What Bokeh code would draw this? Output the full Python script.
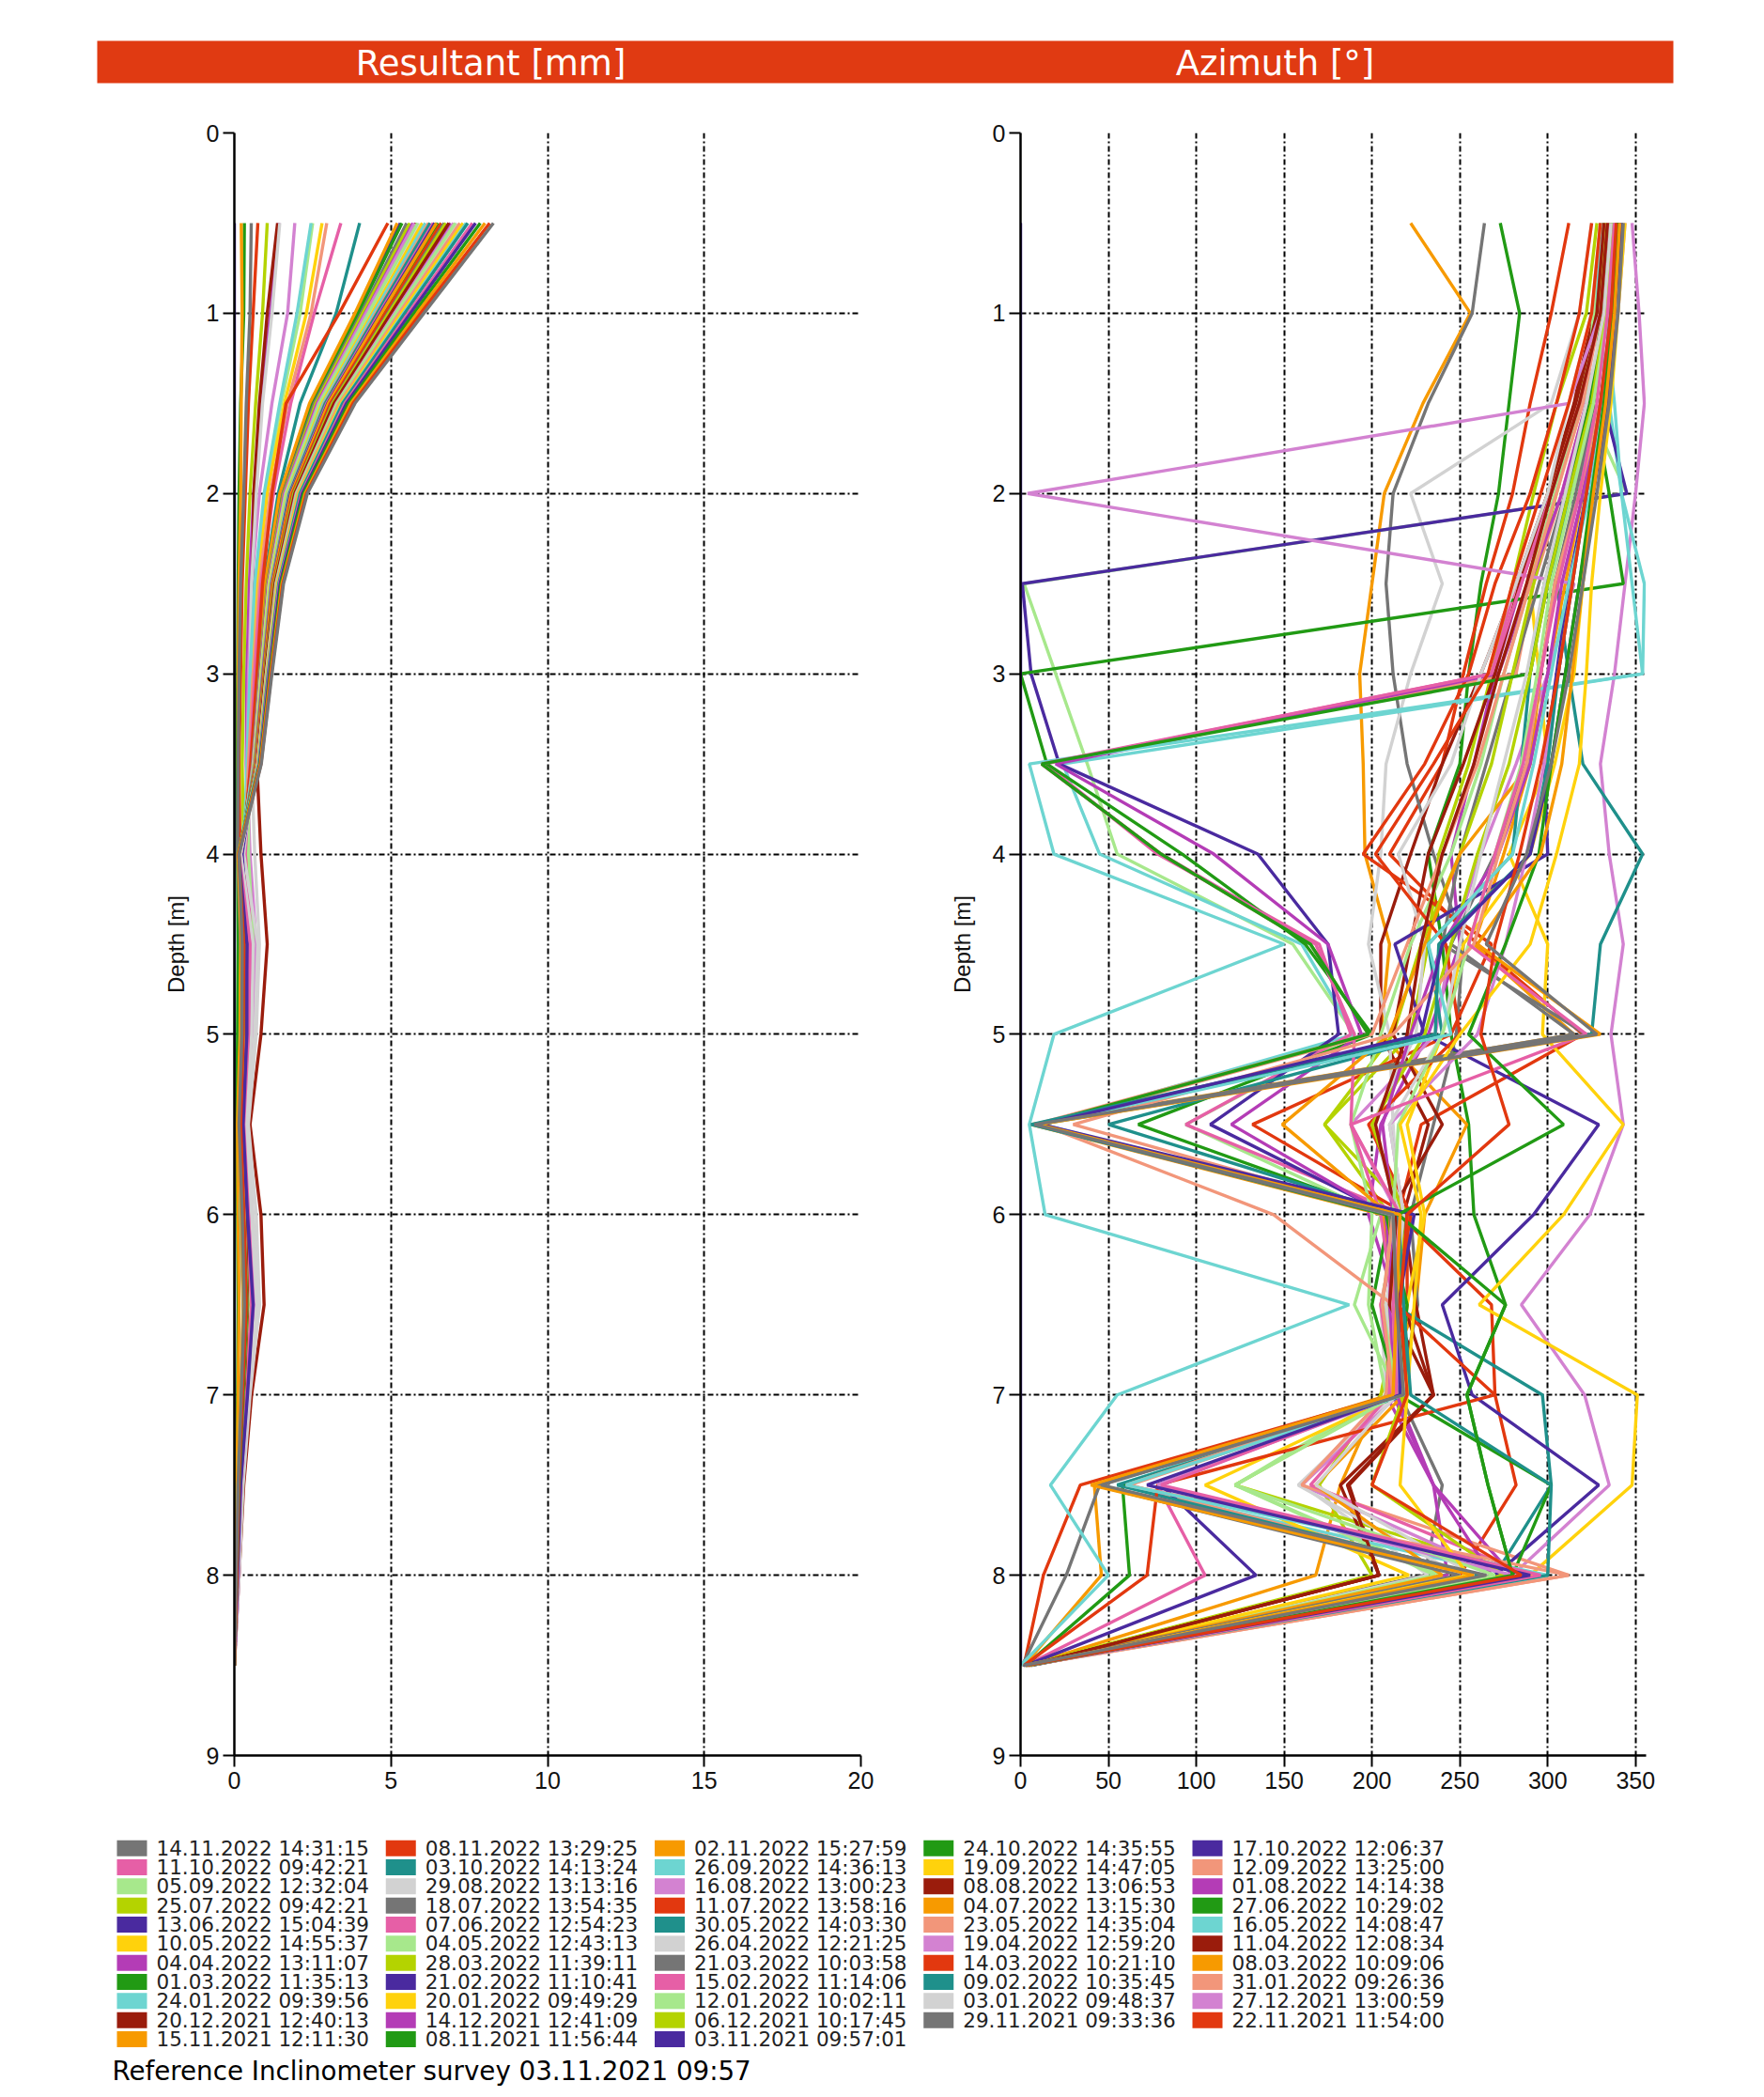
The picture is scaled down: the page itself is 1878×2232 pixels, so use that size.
from bokeh.plotting import figure
from bokeh.models import Range1d, FixedTicker
from bokeh.layouts import column, row
from bokeh.embed import file_html
from bokeh.resources import INLINE
from bokeh.core.properties import value

# ---------------- data ----------------
DEPTHS = [0.5, 1.0, 1.5, 2.0, 2.5, 3.0, 3.5, 4.0, 4.5, 5.0, 5.5, 6.0, 6.5, 7.0, 7.5, 8.0, 8.5]

SURVEYS = [
    "03.11.2021 09:57:01", "08.11.2021 11:56:44", "15.11.2021 12:11:30", "22.11.2021 11:54:00",
    "29.11.2021 09:33:36", "06.12.2021 10:17:45", "14.12.2021 12:41:09", "20.12.2021 12:40:13",
    "27.12.2021 13:00:59", "03.01.2022 09:48:37", "12.01.2022 10:02:11", "20.01.2022 09:49:29",
    "24.01.2022 09:39:56", "31.01.2022 09:26:36", "09.02.2022 10:35:45", "15.02.2022 11:14:06",
    "21.02.2022 11:10:41", "01.03.2022 11:35:13", "08.03.2022 10:09:06", "14.03.2022 10:21:10",
    "21.03.2022 10:03:58", "28.03.2022 11:39:11", "04.04.2022 13:11:07", "11.04.2022 12:08:34",
    "19.04.2022 12:59:20", "26.04.2022 12:21:25", "04.05.2022 12:43:13", "10.05.2022 14:55:37",
    "16.05.2022 14:08:47", "23.05.2022 14:35:04", "30.05.2022 14:03:30", "07.06.2022 12:54:23",
    "13.06.2022 15:04:39", "27.06.2022 10:29:02", "04.07.2022 13:15:30", "11.07.2022 13:58:16",
    "18.07.2022 13:54:35", "25.07.2022 09:42:21", "01.08.2022 14:14:38", "08.08.2022 13:06:53",
    "16.08.2022 13:00:23", "29.08.2022 13:13:16", "05.09.2022 12:32:04", "12.09.2022 13:25:00",
    "19.09.2022 14:47:05", "26.09.2022 14:36:13", "03.10.2022 14:13:24", "11.10.2022 09:42:21",
    "17.10.2022 12:06:37", "24.10.2022 14:35:55", "02.11.2022 15:27:59", "08.11.2022 13:29:25",
    "14.11.2022 14:31:15",
]

# Resultant [mm] per survey (values at DEPTHS)
r20211103 = [0, 0, 0, 0, 0, 0, 0, 0, 0, 0, 0, 0, 0, 0, 0, 0, 0]
r20211108 = [0.32, 0.30, 0.20, 0.15, 0.12, 0.10, 0.08, 0.10, 0.12, 0.10, 0.08, 0.10, 0.12, 0.10, 0.06, 0.04, 0]
r20211115 = [0.22, 0.25, 0.22, 0.20, 0.15, 0.12, 0.12, 0.15, 0.20, 0.18, 0.10, 0.12, 0.15, 0.12, 0.08, 0.05, 0]
r20211122 = [0.75, 0.60, 0.45, 0.35, 0.25, 0.20, 0.15, 0.18, 0.30, 0.35, 0.20, 0.25, 0.30, 0.25, 0.15, 0.10, 0]
r20211129 = [0.54, 0.50, 0.38, 0.30, 0.20, 0.15, 0.12, 0.10, 0.20, 0.25, 0.15, 0.20, 0.28, 0.22, 0.12, 0.08, 0]
r20211206 = [1.05, 0.90, 0.68, 0.50, 0.38, 0.30, 0.25, 0.30, 0.45, 0.40, 0.25, 0.35, 0.42, 0.30, 0.18, 0.10, 0]
r20211214 = [1.42, 1.15, 0.85, 0.62, 0.48, 0.40, 0.38, 0.45, 0.60, 0.55, 0.35, 0.50, 0.60, 0.40, 0.22, 0.12, 0]
r20211220 = [1.38, 1.05, 0.80, 0.62, 0.58, 0.60, 0.72, 0.85, 1.05, 0.85, 0.50, 0.85, 0.95, 0.55, 0.30, 0.15, 0]
r20211227 = [1.93, 1.70, 1.20, 0.80, 0.55, 0.45, 0.40, 0.50, 0.70, 0.60, 0.40, 0.55, 0.70, 0.45, 0.25, 0.15, 0]
r20220103 = [1.45, 1.20, 0.90, 0.70, 0.55, 0.50, 0.55, 0.65, 0.80, 0.70, 0.45, 0.70, 0.80, 0.50, 0.28, 0.15, 0]
r20220112 = [2.50, 2.10, 1.50, 1.00, 0.70, 0.55, 0.45, 0.45, 0.60, 0.50, 0.30, 0.45, 0.55, 0.40, 0.25, 0.12, 0]
r20220120 = [2.80, 2.30, 1.60, 1.05, 0.72, 0.55, 0.42, 0.35, 0.50, 0.45, 0.30, 0.40, 0.50, 0.35, 0.20, 0.10, 0]
r20220124 = [2.45, 2.00, 1.45, 0.95, 0.65, 0.50, 0.40, 0.30, 0.45, 0.40, 0.25, 0.35, 0.45, 0.30, 0.18, 0.10, 0]
r20220131 = [2.95, 2.45, 1.70, 1.15, 0.80, 0.60, 0.45, 0.32, 0.50, 0.45, 0.30, 0.42, 0.55, 0.38, 0.22, 0.12, 0]
r20220209 = [4.00, 3.25, 2.10, 1.40, 0.95, 0.72, 0.52, 0.30, 0.45, 0.40, 0.28, 0.40, 0.50, 0.35, 0.20, 0.10, 0]
r20220215 = [3.40, 2.55, 1.80, 1.25, 0.85, 0.65, 0.50, 0.35, 0.55, 0.50, 0.32, 0.45, 0.60, 0.40, 0.22, 0.12, 0]
r20220221 = [5.30, 3.90, 2.45, 1.50, 1.00, 0.78, 0.55, 0.25, 0.45, 0.45, 0.30, 0.42, 0.62, 0.42, 0.22, 0.12, 0]
r20220301 = [5.35, 3.95, 2.50, 1.55, 1.02, 0.80, 0.56, 0.22, 0.40, 0.40, 0.28, 0.38, 0.50, 0.35, 0.20, 0.10, 0]
r20220308 = [5.20, 3.85, 2.40, 1.45, 0.98, 0.76, 0.55, 0.25, 0.38, 0.35, 0.25, 0.35, 0.45, 0.30, 0.18, 0.10, 0]
r20220314 = [4.90, 3.35, 1.65, 1.20, 0.90, 0.72, 0.52, 0.28, 0.42, 0.38, 0.26, 0.36, 0.45, 0.32, 0.18, 0.10, 0]
r20220321 = [5.50, 4.05, 2.55, 1.55, 1.05, 0.80, 0.58, 0.25, 0.40, 0.35, 0.25, 0.38, 0.48, 0.32, 0.20, 0.10, 0]
r20220328 = [5.60, 4.10, 2.60, 1.58, 1.06, 0.82, 0.60, 0.22, 0.38, 0.36, 0.24, 0.36, 0.46, 0.30, 0.18, 0.10, 0]
r20220404 = [5.70, 4.18, 2.65, 1.60, 1.08, 0.83, 0.60, 0.20, 0.40, 0.38, 0.26, 0.40, 0.55, 0.38, 0.20, 0.10, 0]
r20220411 = [5.80, 4.25, 2.70, 1.63, 1.10, 0.84, 0.62, 0.25, 0.45, 0.42, 0.28, 0.42, 0.50, 0.35, 0.20, 0.10, 0]
r20220419 = [5.75, 4.20, 2.68, 1.62, 1.10, 0.84, 0.60, 0.22, 0.55, 0.50, 0.30, 0.45, 0.60, 0.40, 0.22, 0.12, 0]
r20220426 = [5.90, 4.32, 2.75, 1.66, 1.12, 0.86, 0.62, 0.30, 0.75, 0.65, 0.40, 0.60, 0.80, 0.45, 0.25, 0.12, 0]
r20220504 = [5.85, 4.28, 2.72, 1.65, 1.11, 0.85, 0.62, 0.20, 0.40, 0.38, 0.25, 0.38, 0.48, 0.32, 0.18, 0.10, 0]
r20220510 = [6.00, 4.40, 2.80, 1.70, 1.14, 0.88, 0.63, 0.18, 0.35, 0.32, 0.22, 0.32, 0.40, 0.28, 0.16, 0.08, 0]
r20220516 = [6.10, 4.45, 2.84, 1.72, 1.16, 0.89, 0.64, 0.15, 0.30, 0.20, 0.15, 0.20, 0.30, 0.20, 0.12, 0.06, 0]
r20220523 = [6.20, 4.52, 2.88, 1.75, 1.18, 0.90, 0.65, 0.20, 0.35, 0.30, 0.20, 0.35, 0.42, 0.30, 0.16, 0.08, 0]
r20220530 = [6.25, 4.56, 2.90, 1.76, 1.19, 0.91, 0.66, 0.18, 0.34, 0.30, 0.20, 0.32, 0.40, 0.28, 0.16, 0.08, 0]
r20220607 = [6.35, 4.63, 2.95, 1.79, 1.20, 0.92, 0.67, 0.20, 0.45, 0.42, 0.28, 0.42, 0.55, 0.36, 0.18, 0.10, 0]
r20220613 = [6.40, 4.67, 2.98, 1.80, 1.21, 0.93, 0.68, 0.25, 0.45, 0.45, 0.30, 0.45, 0.62, 0.42, 0.20, 0.10, 0]
r20220627 = [6.50, 4.74, 3.02, 1.83, 1.23, 0.95, 0.69, 0.18, 0.32, 0.28, 0.18, 0.30, 0.38, 0.26, 0.15, 0.08, 0]
r20220704 = [6.45, 4.70, 3.00, 1.82, 1.22, 0.94, 0.68, 0.20, 0.35, 0.30, 0.20, 0.32, 0.40, 0.28, 0.16, 0.08, 0]
r20220711 = [6.60, 4.82, 3.07, 1.86, 1.25, 0.96, 0.70, 0.16, 0.30, 0.28, 0.18, 0.30, 0.36, 0.25, 0.14, 0.08, 0]
r20220718 = [6.70, 4.90, 3.12, 1.89, 1.27, 0.97, 0.71, 0.15, 0.30, 0.26, 0.18, 0.28, 0.35, 0.24, 0.14, 0.07, 0]
r20220725 = [6.75, 4.93, 3.14, 1.90, 1.28, 0.98, 0.72, 0.18, 0.35, 0.30, 0.20, 0.33, 0.42, 0.30, 0.16, 0.08, 0]
r20220801 = [6.90, 5.04, 3.21, 1.95, 1.31, 1.00, 0.73, 0.20, 0.55, 0.50, 0.32, 0.50, 0.65, 0.42, 0.22, 0.10, 0]
r20220808 = [6.85, 5.00, 3.18, 1.93, 1.30, 0.99, 0.73, 0.18, 0.35, 0.32, 0.22, 0.35, 0.42, 0.30, 0.16, 0.08, 0]
r20220816 = [7.00, 5.11, 3.26, 1.97, 1.33, 1.02, 0.74, 0.20, 0.55, 0.52, 0.32, 0.50, 0.68, 0.45, 0.22, 0.10, 0]
r20220829 = [7.10, 5.18, 3.30, 2.00, 1.35, 1.03, 0.75, 0.20, 0.60, 0.55, 0.35, 0.55, 0.72, 0.45, 0.22, 0.10, 0]
r20220905 = [7.05, 5.15, 3.28, 1.99, 1.34, 1.02, 0.75, 0.16, 0.30, 0.28, 0.18, 0.30, 0.40, 0.28, 0.15, 0.08, 0]
r20220912 = [7.20, 5.26, 3.35, 2.03, 1.37, 1.04, 0.76, 0.15, 0.32, 0.30, 0.20, 0.32, 0.40, 0.28, 0.15, 0.08, 0]
r20220919 = [7.30, 5.33, 3.40, 2.06, 1.39, 1.06, 0.77, 0.14, 0.28, 0.25, 0.16, 0.28, 0.36, 0.25, 0.14, 0.07, 0]
r20220926 = [7.40, 5.40, 3.44, 2.09, 1.41, 1.07, 0.78, 0.12, 0.25, 0.22, 0.15, 0.25, 0.32, 0.22, 0.13, 0.07, 0]
r20221003 = [7.45, 5.44, 3.46, 2.10, 1.42, 1.08, 0.79, 0.12, 0.26, 0.24, 0.16, 0.26, 0.34, 0.24, 0.13, 0.07, 0]
r20221011 = [7.60, 5.55, 3.53, 2.14, 1.44, 1.10, 0.80, 0.15, 0.50, 0.45, 0.30, 0.45, 0.60, 0.40, 0.20, 0.10, 0]
r20221017 = [7.70, 5.62, 3.58, 2.17, 1.46, 1.12, 0.81, 0.14, 0.40, 0.40, 0.28, 0.42, 0.60, 0.42, 0.20, 0.10, 0]
r20221024 = [7.85, 5.73, 3.65, 2.21, 1.49, 1.14, 0.82, 0.12, 0.30, 0.28, 0.18, 0.30, 0.40, 0.28, 0.15, 0.08, 0]
r20221102 = [8.00, 5.84, 3.72, 2.26, 1.52, 1.16, 0.83, 0.12, 0.22, 0.20, 0.12, 0.22, 0.30, 0.20, 0.12, 0.06, 0]
r20221108 = [8.15, 5.95, 3.79, 2.30, 1.55, 1.18, 0.85, 0.14, 0.30, 0.28, 0.20, 0.30, 0.38, 0.26, 0.14, 0.08, 0]
r20221114 = [8.27, 6.05, 3.85, 2.33, 1.57, 1.20, 0.86, 0.15, 0.25, 0.24, 0.15, 0.25, 0.32, 0.22, 0.12, 0.06, 0]

# Azimuth [deg] per survey (values at DEPTHS)
a20211103 = [0, 0, 0, 0, 0, 0, 0, 0, 0, 0, 0, 0, 0, 0, 0, 0, 0]
a20211108 = [273, 284, 278, 272, 262, 255, 250, 232, 240, 245, 255, 258, 276, 254, 266, 280, 6]
a20211115 = [222, 256, 229, 207, 200, 193, 195, 196, 210, 205, 254, 230, 225, 205, 182, 168, 4]
a20211122 = [312, 302, 290, 280, 265, 252, 240, 210, 260, 320, 228, 215, 268, 270, 282, 250, 2]
a20211129 = [264, 257, 232, 212, 208, 212, 220, 235, 252, 248, 235, 222, 226, 216, 240, 230, 1]
a20211206 = [328, 322, 305, 292, 280, 268, 255, 238, 232, 222, 173, 210, 215, 205, 170, 200, 3]
a20211214 = [340, 336, 320, 302, 285, 270, 258, 245, 250, 232, 205, 198, 214, 212, 235, 243, 4]
a20211220 = [330, 326, 315, 300, 282, 262, 240, 222, 205, 205, 232, 218, 225, 235, 187, 204, 5]
a20211227 = [348, 352, 355, 350, 344, 338, 330, 335, 343, 336, 343, 324, 285, 321, 335, 280, 6]
a20220103 = [325, 318, 302, 222, 240, 222, 208, 205, 198, 210, 212, 215, 205, 208, 160, 232, 4]
a20220112 = [330, 326, 322, 345, 2, 20, 38, 55, 155, 190, 94, 205, 190, 215, 122, 240, 3]
a20220120 = [335, 330, 318, 300, 290, 295, 300, 278, 300, 297, 343, 309, 261, 351, 348, 290, 5]
a20220124 = [330, 328, 335, 342, 355, 354, 24, 45, 160, 190, 12, 215, 210, 212, 55, 280, 2]
a20220131 = [338, 334, 322, 308, 292, 282, 12, 80, 165, 198, 8, 215, 205, 215, 62, 260, 3]
a20220209 = [335, 332, 326, 318, 305, 312, 320, 354, 330, 325, 10, 220, 212, 297, 302, 270, 4]
a20220215 = [336, 330, 318, 302, 282, 268, 14, 78, 170, 188, 94, 218, 205, 212, 78, 105, 3]
a20220221 = [338, 336, 332, 345, 1, 6, 22, 135, 175, 181, 108, 210, 212, 210, 80, 134, 3]
a20220301 = [332, 330, 326, 335, 343, 0, 15, 92, 162, 200, 67, 210, 200, 215, 58, 62, 3]
a20220308 = [340, 338, 330, 320, 310, 300, 290, 275, 258, 315, 6, 206, 215, 210, 42, 46, 2]
a20220314 = [325, 318, 305, 290, 270, 255, 230, 195, 268, 245, 132, 220, 220, 212, 34, 13, 2]
a20220321 = [335, 332, 324, 310, 295, 280, 265, 250, 240, 322, 7, 208, 212, 218, 45, 26, 1]
a20220328 = [333, 328, 318, 305, 292, 280, 268, 250, 228, 212, 173, 222, 208, 212, 122, 290, 3]
a20220404 = [338, 334, 322, 308, 290, 272, 20, 110, 175, 194, 120, 208, 212, 208, 235, 280, 4]
a20220411 = [332, 328, 316, 300, 284, 270, 252, 232, 222, 212, 240, 210, 218, 235, 182, 204, 5]
a20220419 = [336, 330, 312, 4, 315, 300, 282, 262, 245, 236, 188, 215, 212, 215, 160, 275, 4]
a20220426 = [330, 325, 312, 300, 282, 262, 245, 215, 230, 225, 200, 216, 208, 212, 158, 250, 4]
a20220504 = [335, 330, 318, 304, 290, 275, 262, 245, 222, 205, 188, 200, 198, 208, 122, 236, 3]
a20220510 = [342, 338, 332, 325, 320, 315, 304, 290, 252, 240, 220, 230, 220, 215, 105, 221, 4]
a20220516 = [336, 333, 338, 342, 348, 354, 5, 19, 150, 19, 5, 14, 187, 55, 17, 50, 0]
a20220523 = [334, 330, 320, 305, 290, 275, 260, 240, 220, 200, 12, 144, 212, 208, 160, 312, 4]
a20220530 = [338, 334, 326, 314, 300, 290, 285, 280, 232, 240, 50, 215, 218, 220, 55, 262, 3]
a20220607 = [335, 330, 318, 302, 285, 268, 12, 80, 168, 190, 188, 205, 212, 210, 165, 290, 4]
a20220613 = [340, 337, 330, 322, 312, 305, 298, 300, 213, 230, 329, 292, 240, 257, 329, 270, 6]
a20220627 = [336, 332, 324, 312, 298, 290, 12, 80, 165, 198, 10, 208, 220, 215, 302, 280, 5]
a20220704 = [342, 338, 330, 318, 305, 296, 290, 250, 230, 210, 149, 210, 212, 218, 168, 240, 3]
a20220711 = [330, 325, 312, 296, 280, 266, 235, 202, 242, 250, 198, 222, 214, 270, 78, 72, 2]
a20220718 = [338, 334, 326, 316, 304, 296, 288, 270, 245, 315, 8, 210, 216, 212, 42, 250, 2]
a20220725 = [336, 333, 325, 312, 300, 290, 278, 260, 245, 230, 200, 218, 214, 218, 200, 275, 3]
a20220801 = [340, 337, 330, 320, 308, 300, 290, 272, 240, 222, 206, 212, 210, 214, 235, 268, 4]
a20220808 = [334, 330, 318, 302, 288, 272, 258, 240, 228, 220, 202, 214, 210, 235, 186, 204, 5]
a20220816 = [344, 340, 332, 322, 314, 306, 298, 288, 276, 260, 210, 218, 212, 216, 78, 280, 4]
a20220829 = [336, 332, 322, 310, 298, 288, 275, 262, 250, 240, 210, 218, 212, 214, 168, 258, 4]
a20220905 = [338, 334, 326, 314, 302, 294, 285, 270, 255, 240, 215, 212, 206, 214, 122, 270, 3]
a20220912 = [342, 338, 330, 318, 304, 296, 288, 272, 258, 212, 30, 212, 206, 212, 60, 312, 4]
a20220919 = [344, 340, 336, 330, 325, 322, 318, 305, 290, 250, 216, 228, 224, 220, 216, 255, 5]
a20220926 = [342, 338, 332, 324, 312, 302, 292, 280, 232, 245, 12, 212, 214, 218, 60, 300, 3]
a20221003 = [340, 336, 330, 322, 314, 306, 300, 290, 238, 236, 6, 215, 218, 222, 302, 300, 3]
a20221011 = [338, 334, 328, 318, 306, 296, 286, 270, 255, 322, 188, 216, 212, 214, 80, 296, 4]
a20221017 = [342, 338, 334, 326, 318, 310, 302, 290, 240, 228, 12, 224, 215, 216, 72, 290, 2]
a20221024 = [340, 337, 332, 325, 318, 310, 302, 295, 276, 255, 309, 215, 276, 254, 266, 280, 4]
a20221102 = [341, 338, 333, 326, 320, 314, 308, 296, 260, 330, 10, 216, 214, 212, 40, 258, 3]
a20221108 = [339, 336, 330, 322, 314, 306, 296, 284, 270, 262, 278, 220, 216, 220, 200, 285, 3]
a20221114 = [343, 340, 335, 328, 320, 312, 302, 288, 265, 328, 8, 212, 214, 218, 46, 265, 2]

RESULTANT = [
    r20211103, r20211108, r20211115, r20211122, r20211129, r20211206, r20211214, r20211220,
    r20211227, r20220103, r20220112, r20220120, r20220124, r20220131, r20220209, r20220215,
    r20220221, r20220301, r20220308, r20220314, r20220321, r20220328, r20220404, r20220411,
    r20220419, r20220426, r20220504, r20220510, r20220516, r20220523, r20220530, r20220607,
    r20220613, r20220627, r20220704, r20220711, r20220718, r20220725, r20220801, r20220808,
    r20220816, r20220829, r20220905, r20220912, r20220919, r20220926, r20221003, r20221011,
    r20221017, r20221024, r20221102, r20221108, r20221114,
]
AZIMUTH = [
    a20211103, a20211108, a20211115, a20211122, a20211129, a20211206, a20211214, a20211220,
    a20211227, a20220103, a20220112, a20220120, a20220124, a20220131, a20220209, a20220215,
    a20220221, a20220301, a20220308, a20220314, a20220321, a20220328, a20220404, a20220411,
    a20220419, a20220426, a20220504, a20220510, a20220516, a20220523, a20220530, a20220607,
    a20220613, a20220627, a20220704, a20220711, a20220718, a20220725, a20220801, a20220808,
    a20220816, a20220829, a20220905, a20220912, a20220919, a20220926, a20221003, a20221011,
    a20221017, a20221024, a20221102, a20221108, a20221114,
]

RES_TICKS = [0, 5, 10, 15, 20]
AZI_TICKS = [0, 50, 100, 150, 200, 250, 300, 350]
DEPTH_TICKS = [0, 1, 2, 3, 4, 5, 6, 7, 8, 9]
FOOTNOTE = "Reference Inclinometer survey 03.11.2021 09:57"

# ---------------- styles ----------------
GRAY, RED, ORANGE, GREEN, PURPLE = "#757575", "#e2380f", "#f79a00", "#219a14", "#4a2a9f"
PINK, TEAL, CYAN, YELLOW, SALMON = "#e65fa6", "#1f908b", "#6dd5d1", "#ffd20c", "#f2967a"
LGREEN, LGRAY, ORCHID, DRED, MAGENTA, YGREEN = "#a7e88c", "#d2d2d2", "#d382d1", "#9a1c0c", "#b43cb6", "#b4d300"

COLORS = [
    PURPLE, GREEN, ORANGE, RED, GRAY, YGREEN, MAGENTA, DRED, ORCHID, LGRAY, LGREEN, YELLOW,
    CYAN, SALMON, TEAL, PINK, PURPLE, GREEN, ORANGE, RED, GRAY, YGREEN, MAGENTA, DRED,
    ORCHID, LGRAY, LGREEN, YELLOW, CYAN, SALMON, TEAL, PINK, PURPLE, GREEN, ORANGE, RED,
    GRAY, YGREEN, MAGENTA, DRED, ORCHID, LGRAY, LGREEN, SALMON, YELLOW, CYAN, TEAL, PINK,
    PURPLE, GREEN, ORANGE, RED, GRAY,
]

HEADER_RED = "#e03a12"
TICK_FONT = "Liberation Sans"
TEXT_FONT = "DejaVu Sans"


def decor_fig(w, h, x0, y0):
    f = figure(width=w, height=h, x_range=Range1d(x0, x0 + w), y_range=Range1d(y0 + h, y0),
               toolbar_location=None, output_backend="svg", min_border=0,
               x_axis_location=None, y_axis_location=None)
    f.grid.visible = False
    f.outline_line_color = None
    f.background_fill_color = "white"
    f.border_fill_color = "white"
    return f


def data_fig(xmax, xticks, bl, br, fw):
    f = figure(frame_width=fw, frame_height=1727,
               min_border_left=bl, min_border_right=br, min_border_top=21, min_border_bottom=62,
               x_range=Range1d(0, xmax), y_range=Range1d(9, 0),
               toolbar_location=None, output_backend="svg")
    f.outline_line_color = None
    f.xaxis.ticker = FixedTicker(ticks=xticks)
    f.yaxis.ticker = FixedTicker(ticks=DEPTH_TICKS)
    f.xgrid.ticker = FixedTicker(ticks=xticks)
    f.ygrid.ticker = FixedTicker(ticks=DEPTH_TICKS)
    for g in (f.xgrid, f.ygrid):
        g.grid_line_color = "black"
        g.grid_line_dash = "6 3 2 3"
        g.grid_line_width = 2
    for ax in (f.xaxis, f.yaxis):
        ax.axis_line_color = "black"
        ax.axis_line_width = 2.5
        ax.major_tick_line_color = "black"
        ax.major_tick_line_width = 2
        ax.major_tick_in = 0
        ax.major_tick_out = 12
        ax.minor_tick_line_color = None
        ax.major_label_text_font = TICK_FONT
        ax.major_label_text_font_size = "25px"
        ax.major_label_text_color = "#111111"
    f.yaxis.major_label_standoff = 4
    f.xaxis.major_label_standoff = 5
    f.yaxis.axis_label = "Depth [m]"
    f.yaxis.axis_label_text_font = TICK_FONT
    f.yaxis.axis_label_text_font_style = "normal"
    f.yaxis.axis_label_text_font_size = "24px"
    f.yaxis.axis_label_text_color = "#111111"
    f.yaxis.axis_label_standoff = 16
    return f


# header (page coordinates, origin at top-left of the page)
hdr = decor_fig(1870, 120, 0, 0)
hdr.quad(left=103, right=1781, top=43, bottom=88, fill_color=HEADER_RED, line_color=None)
hdr.text(x=[522, 1357], y=[67, 67], text=["Resultant [mm]", "Azimuth [°]"],
         text_align="center", text_baseline="middle", text_color="white",
         text_font=value(TEXT_FONT), text_font_size="37px")

# plots
p_res = data_fig(20, RES_TICKS, 249, 84, 667)
p_azi = data_fig(356, AZI_TICKS, 86, 118, 666)

for i in range(len(SURVEYS)):  # oldest first, newest on top
    p_res.line(RESULTANT[i], DEPTHS, line_color=COLORS[i], line_width=3.4)
    p_azi.line(AZIMUTH[i], DEPTHS, line_color=COLORS[i], line_width=3.4)
p_azi.line(AZIMUTH[0], DEPTHS, line_color=COLORS[0], line_width=3)

# legend + footnote
leg = decor_fig(1870, 296, 0, 1930)
n = len(SURVEYS)
sx, sy, lab, cols = [], [], [], []
for k in range(n):
    i = n - 1 - k
    r, c = divmod(k, 5)
    x0 = 124 + c * 286.25
    yc = 1966.7 + r * 20.33
    sx.append(x0)
    sy.append(yc)
    lab.append(SURVEYS[i])
    cols.append(COLORS[i])
leg.quad(left=sx, right=[v + 32 for v in sx], top=[v - 8.5 for v in sy], bottom=[v + 8.5 for v in sy],
         fill_color=cols, line_color=None)
leg.text(x=[v + 42 for v in sx], y=sy, text=lab, text_align="left", text_baseline="middle",
         text_color="#222222", text_font=value(TEXT_FONT), text_font_size="21.5px")
leg.text(x=[119], y=[2204], text=[FOOTNOTE], text_align="left", text_baseline="middle",
         text_color="black", text_font=value(TEXT_FONT), text_font_size="27.7px")

layout = column(hdr, row(p_res, p_azi, spacing=0), leg, spacing=0)
open("out.html", "w").write(file_html(layout, INLINE))
